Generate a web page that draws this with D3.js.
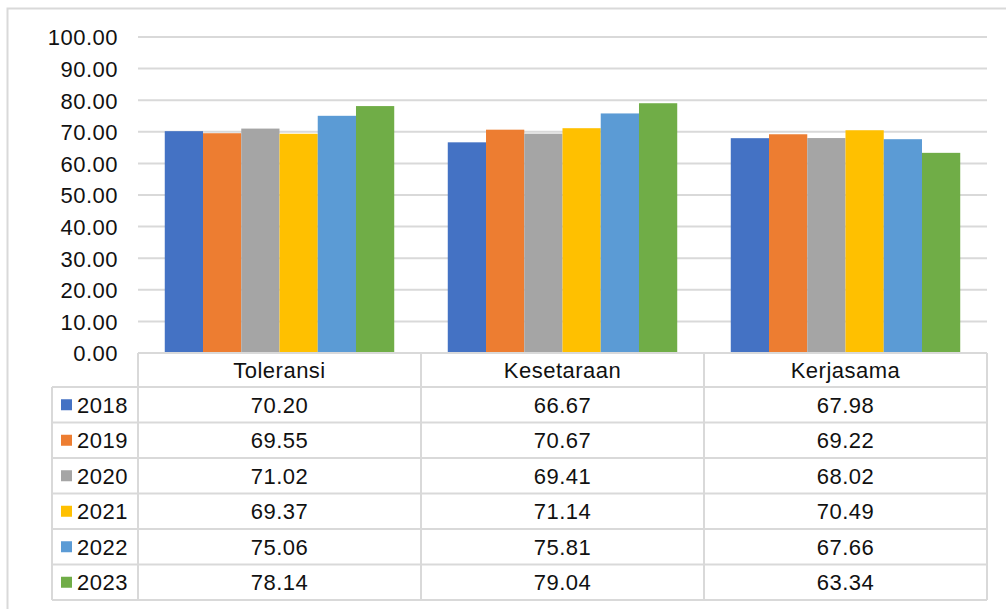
<!DOCTYPE html>
<html>
<head>
<meta charset="utf-8">
<script src="https://cdn.jsdelivr.net/npm/d3@7"></script>
<style>
  body { margin: 0; background: #fff; }
  svg text { font-family: "Liberation Sans", Arial, sans-serif; fill: #111; letter-spacing: 0.5px; }
</style>
</head>
<body>
<div id="chart"></div>
<script>
// data
const categories = ["Toleransi", "Kesetaraan", "Kerjasama"];
const years = ["2018", "2019", "2020", "2021", "2022", "2023"];
const v2018 = [70.20, 66.67, 67.98];
const v2019 = [69.55, 70.67, 69.22];
const v2020 = [71.02, 69.41, 68.02];
const v2021 = [69.37, 71.14, 70.49];
const v2022 = [75.06, 75.81, 67.66];
const v2023 = [78.14, 79.04, 63.34];
const yTicks = [0, 10, 20, 30, 40, 50, 60, 70, 80, 90, 100];
const colors = ["#4472C4", "#ED7D31", "#A5A5A5", "#FFC000", "#5B9BD5", "#70AD47"];

const seriesValues = [v2018, v2019, v2020, v2021, v2022, v2023];
const series = years.map((y, i) => ({year: y, values: seriesValues[i], color: colors[i]}));

const width = 1006, height = 609;
const plot = {left: 138, right: 987, top: 37, bottom: 353};
const legendLeft = 52;
const rowH = 35.5;
const fontSize = 22;
const lineCol = "#d9d9d9";

const svg = d3.create("svg")
  .attr("width", width)
  .attr("height", height);

// outer border
svg.append("rect")
  .attr("x", 7.5).attr("y", 8.5)
  .attr("width", 1010).attr("height", 610)
  .attr("fill", "none")
  .attr("stroke", lineCol)
  .attr("stroke-width", 2);

// scales
const x = d3.scaleBand()
  .domain(categories)
  .range([plot.left, plot.right]);

const xInner = d3.scaleBand()
  .domain(years)
  .range([0, x.bandwidth()])
  .paddingOuter(0.7);

const y = d3.scaleLinear()
  .domain([0, 100])
  .range([plot.bottom, plot.top]);

// gridlines
svg.append("g")
  .selectAll("line")
  .data(yTicks)
  .join("line")
  .attr("x1", plot.left).attr("x2", plot.right)
  .attr("y1", d => y(d)).attr("y2", d => y(d))
  .attr("stroke", lineCol)
  .attr("stroke-width", 2);

// y axis labels
const yAxis = svg.append("g")
  .attr("transform", `translate(${plot.left - 20}, 0)`)
  .call(d3.axisLeft(y).tickValues(yTicks).tickFormat(d3.format(".2f")).tickSize(0).tickPadding(0));
yAxis.select(".domain").remove();
yAxis.selectAll("text")
  .attr("font-size", fontSize)
  .attr("font-family", null)
  .attr("fill", "#111")
  .attr("dy", "0.36em");

// bars
svg.append("g")
  .selectAll("g")
  .data(series)
  .join("g")
  .attr("fill", d => d.color)
  .selectAll("rect")
  .data(d => d.values.map((v, i) => ({cat: categories[i], year: d.year, v})))
  .join("rect")
  .attr("x", d => x(d.cat) + xInner(d.year))
  .attr("width", xInner.bandwidth())
  .attr("y", d => y(d.v))
  .attr("height", d => y(0) - y(d.v));

// data table
const table = svg.append("g");
const tableTop = plot.bottom;
const headerH = 34;
const rowsTop = tableTop + headerH;
const tableBottom = rowsTop + rowH * years.length;

// horizontal lines
table.append("line")
  .attr("x1", plot.left).attr("x2", plot.right)
  .attr("y1", tableTop).attr("y2", tableTop)
  .attr("stroke", lineCol).attr("stroke-width", 2);
table.selectAll("line.row")
  .data(d3.range(years.length + 1))
  .join("line")
  .attr("class", "row")
  .attr("x1", legendLeft).attr("x2", plot.right)
  .attr("y1", i => rowsTop + i * rowH).attr("y2", i => rowsTop + i * rowH)
  .attr("stroke", lineCol).attr("stroke-width", 2);

// vertical lines
const colEdges = categories.map(c => x(c)).concat([plot.right]);
table.selectAll("line.col")
  .data(colEdges)
  .join("line")
  .attr("class", "col")
  .attr("x1", d => d).attr("x2", d => d)
  .attr("y1", tableTop).attr("y2", tableBottom)
  .attr("stroke", lineCol).attr("stroke-width", 2);
table.append("line")
  .attr("x1", legendLeft).attr("x2", legendLeft)
  .attr("y1", rowsTop).attr("y2", tableBottom)
  .attr("stroke", lineCol).attr("stroke-width", 2);

// header
table.selectAll("text.head")
  .data(categories)
  .join("text")
  .attr("class", "head")
  .attr("x", d => x(d) + x.bandwidth() / 2)
  .attr("y", tableTop + headerH / 2)
  .attr("dy", "0.36em")
  .attr("text-anchor", "middle")
  .attr("font-size", fontSize)
  .text(d => d);

// rows
const rows = table.selectAll("g.r")
  .data(series)
  .join("g")
  .attr("class", "r")
  .attr("transform", (d, i) => `translate(0, ${rowsTop + i * rowH + rowH / 2})`);

rows.append("rect")
  .attr("x", 61).attr("y", -5.5)
  .attr("width", 11).attr("height", 11)
  .attr("fill", d => d.color);

rows.append("text")
  .attr("x", 77)
  .attr("dy", "0.36em")
  .attr("font-size", fontSize)
  .text(d => d.year);

rows.selectAll("text.v")
  .data(d => d.values)
  .join("text")
  .attr("class", "v")
  .attr("x", (d, i) => x(categories[i]) + x.bandwidth() / 2)
  .attr("dy", "0.36em")
  .attr("text-anchor", "middle")
  .attr("font-size", fontSize)
  .text(d => d3.format(".2f")(d));

document.getElementById("chart").appendChild(svg.node());
</script>
</body>
</html>
